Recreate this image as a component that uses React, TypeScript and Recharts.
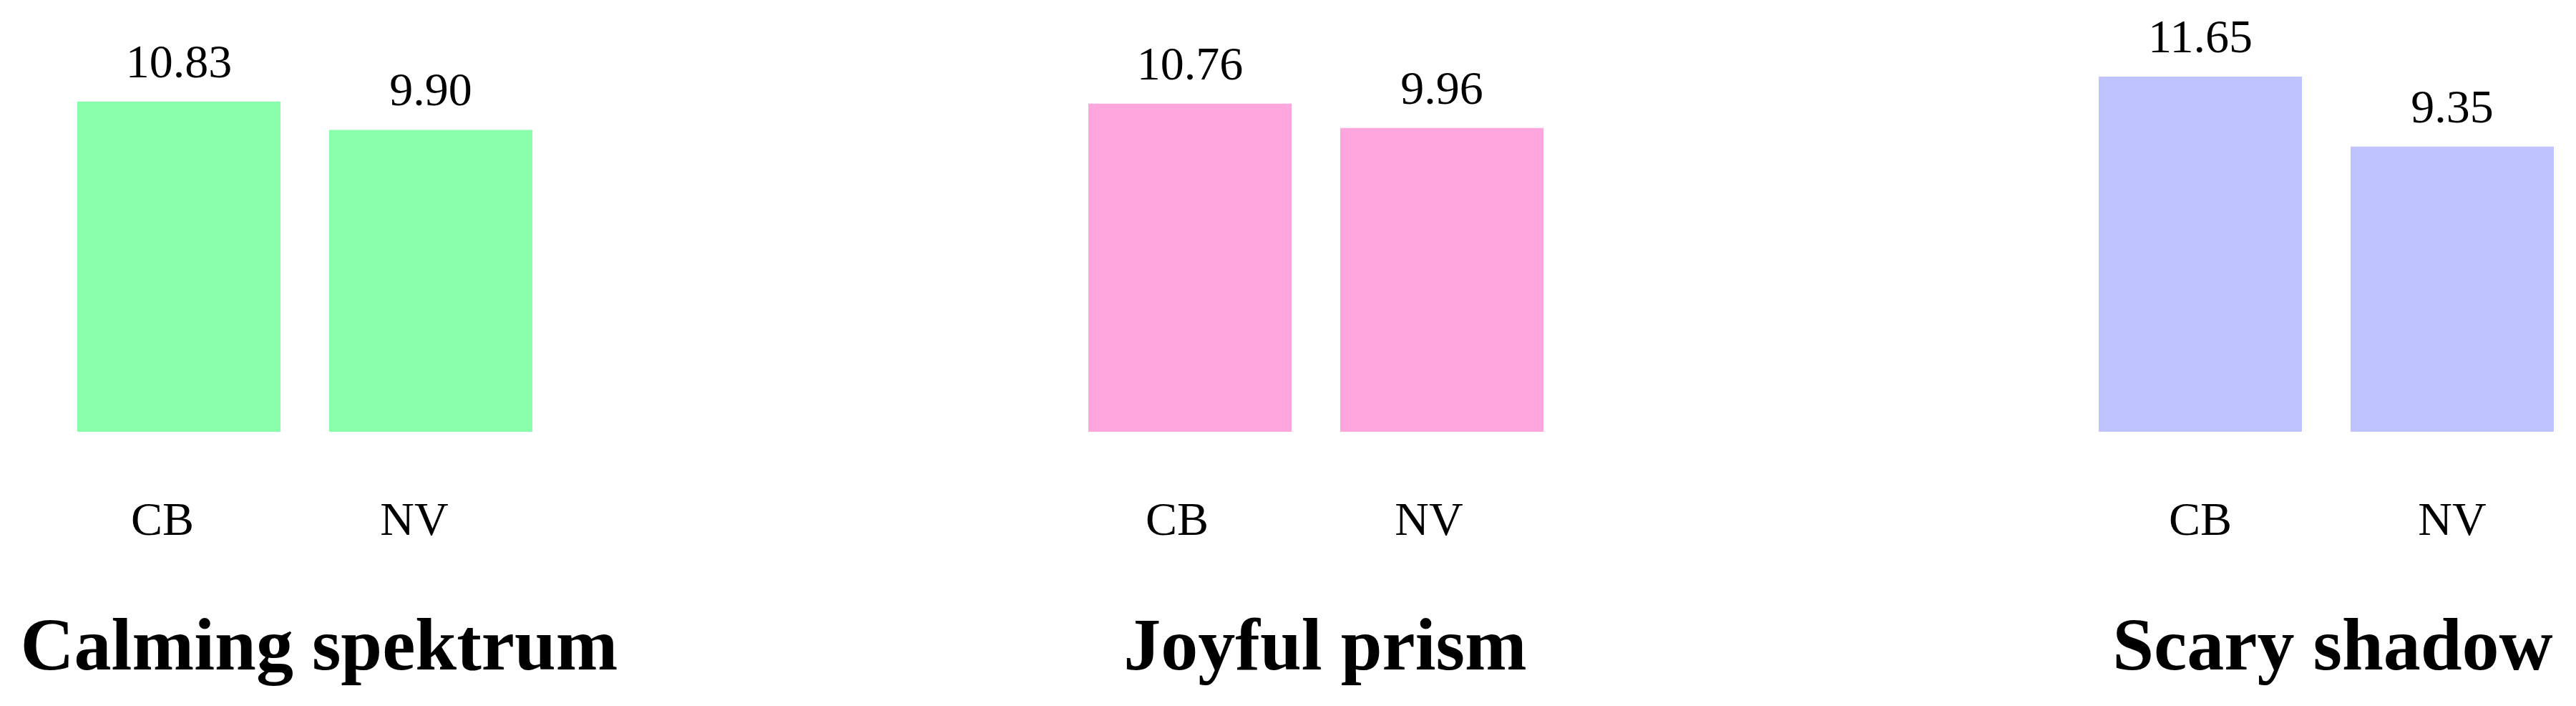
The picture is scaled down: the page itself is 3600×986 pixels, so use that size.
import React from 'react'
import { BarChart, Bar, XAxis, YAxis, LabelList } from 'recharts'

const categories = ['CB', 'NV']
const calmingValues = [10.83, 9.9]
const joyfulValues = [10.76, 9.96]
const scaryValues = [11.65, 9.35]
const panelTitles = ['Calming spektrum', 'Joyful prism', 'Scary shadow']
const panelColors = ['#88FFAA', '#FFA6DF', '#BFC3FF']

const serif = "'Liberation Serif', 'Times New Roman', serif"
const side = 160

// layout per panel: left edge of plot, tick nudge, title nudge
const panels = [
  { values: calmingValues, left: 74, tickDx: -23, titleDx: 20 },
  { values: joyfulValues, left: 1487, tickDx: -18, titleDx: 13 },
  { values: scaryValues, left: 2899, tickDx: 0, titleDx: 9 },
]

function Panel({ index }: { index: number }) {
  const p = panels[index]
  const data = categories.map((name, i) => ({ name, value: p.values[i] }))
  return (
    <div style={{ position: 'absolute', left: p.left - side, top: 0 }}>
      <BarChart
        width={704 + side * 2}
        height={986}
        data={data}
        margin={{ top: 92, right: side, bottom: 0, left: side }}
        barCategoryGap={34}
      >
        <YAxis hide domain={[0, 12]} />
        <XAxis
          dataKey="name"
          height={383}
          interval={0}
          tickLine={false}
          axisLine={false}
          tickMargin={91}
          tick={{ fontSize: 66, fill: '#000', fontFamily: serif, dx: p.tickDx }}
          label={{
            value: panelTitles[index],
            position: 'insideBottom',
            offset: 51,
            dx: p.titleDx,
            fontSize: 104,
            fontWeight: 'bold',
            fill: '#000',
            fontFamily: serif,
          }}
        />
        <Bar dataKey="value" fill={panelColors[index]} isAnimationActive={false}>
          <LabelList
            dataKey="value"
            position="top"
            offset={34}
            fontSize={66}
            fill="#000"
            fontFamily={serif}
            formatter={(v: number) => v.toFixed(2)}
          />
        </Bar>
      </BarChart>
    </div>
  )
}

export default function App() {
  return (
    <div
      style={{
        position: 'absolute',
        left: 0,
        top: 0,
        width: 3600,
        height: 986,
        overflow: 'hidden',
        background: '#fff',
      }}
    >
      {panels.map((_, i) => (
        <Panel key={i} index={i} />
      ))}
    </div>
  )
}
